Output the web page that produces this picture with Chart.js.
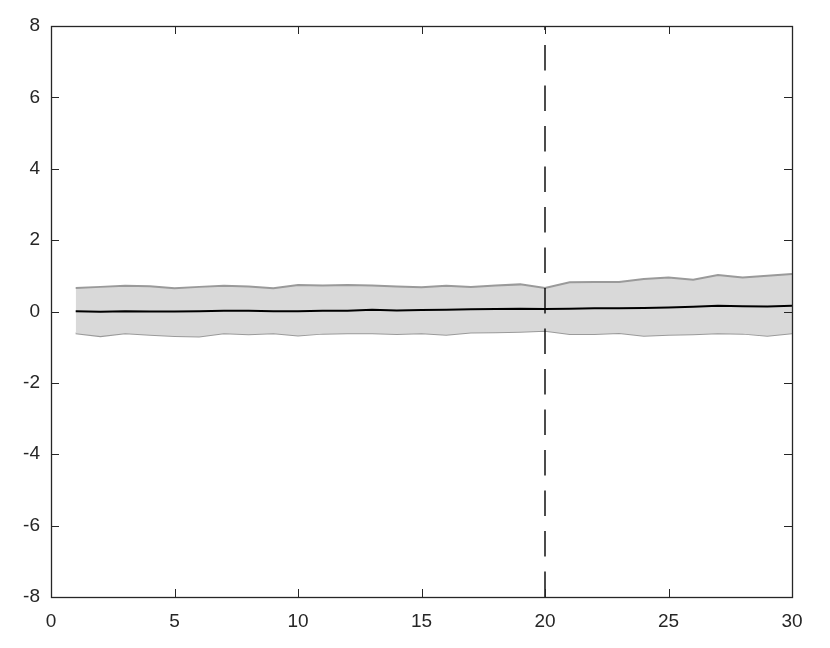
<!DOCTYPE html>
<html>
<head>
<meta charset="utf-8">
<script src="https://cdn.jsdelivr.net/npm/chart.js@4"></script>
<style>
html,body{margin:0;padding:0;background:#fff;}
#wrap{width:830px;height:648px;position:relative;}
</style>
</head>
<body>
<div id="wrap"><canvas id="c" width="830" height="648"></canvas></div>
<script>
const steps = [1,2,3,4,5,6,7,8,9,10,11,12,13,14,15,16,17,18,19,20,21,22,23,24,25,26,27,28,29,30];
const upperBand = [0.66,0.69,0.72,0.71,0.65,0.69,0.72,0.70,0.65,0.74,0.73,0.74,0.73,0.70,0.68,0.72,0.69,0.73,0.76,0.66,0.82,0.83,0.83,0.91,0.95,0.89,1.02,0.95,1.00,1.05];
const meanLine = [0.01,-0.01,0.01,0.00,0.00,0.01,0.02,0.02,0.01,0.01,0.02,0.02,0.05,0.03,0.04,0.05,0.06,0.07,0.08,0.07,0.08,0.09,0.09,0.10,0.11,0.13,0.16,0.15,0.14,0.16];
const lowerBand = [-0.61,-0.69,-0.61,-0.65,-0.69,-0.70,-0.61,-0.64,-0.61,-0.67,-0.62,-0.61,-0.61,-0.63,-0.61,-0.65,-0.59,-0.58,-0.57,-0.54,-0.63,-0.63,-0.60,-0.68,-0.65,-0.64,-0.61,-0.62,-0.68,-0.61];
const markerX = 20;
const xRange = [0, 30];
const yRange = [-8, 8];
const xStep = 5;
const yStep = 2;

const toPts = (ys) => steps.map((x, i) => ({x: x, y: ys[i]}));

const axisColor = '#262626';

const boxTicks = {
  id: 'boxTicks',
  afterDatasetsDraw(chart) {
    const ctx = chart.ctx;
    const a = chart.chartArea;
    const xs = chart.scales.x, ys = chart.scales.y;
    const L = 8;
    ctx.save();
    ctx.strokeStyle = axisColor;
    ctx.lineWidth = 1;
    ctx.beginPath();
    xs.ticks.forEach(t => {
      const px = Math.round(xs.getPixelForValue(t.value)) + 0.5;
      ctx.moveTo(px, a.bottom); ctx.lineTo(px, a.bottom - L);
      ctx.moveTo(px, a.top); ctx.lineTo(px, a.top + L);
    });
    ys.ticks.forEach(t => {
      const py = Math.round(ys.getPixelForValue(t.value)) + 0.5;
      ctx.moveTo(a.left, py); ctx.lineTo(a.left + L, py);
      ctx.moveTo(a.right, py); ctx.lineTo(a.right - L, py);
    });
    ctx.stroke();
    ctx.lineWidth = 1.3;
    ctx.strokeRect(a.left + 0.5, a.top + 0.5, a.right - a.left, a.bottom - a.top);
    ctx.restore();
  }
};

new Chart(document.getElementById('c'), {
  type: 'line',
  data: {
    datasets: [
      {
        label: 'upper',
        data: toPts(upperBand),
        borderColor: '#9a9a9a',
        borderWidth: 2,
        backgroundColor: '#d9d9d9',
        fill: '+1',
        pointRadius: 0,
        tension: 0,
        order: 3
      },
      {
        label: 'lower',
        data: toPts(lowerBand),
        borderColor: '#9a9a9a',
        borderWidth: 2,
        fill: false,
        pointRadius: 0,
        tension: 0,
        order: 3
      },
      {
        label: 'mean',
        data: toPts(meanLine),
        borderColor: '#000000',
        borderWidth: 2,
        fill: false,
        pointRadius: 0,
        tension: 0,
        order: 2
      },
      {
        label: 'marker',
        data: [{x: markerX, y: yRange[0]}, {x: markerX, y: yRange[1]}],
        borderColor: '#000000',
        borderWidth: 1.4,
        borderDash: [25.5, 15],
        fill: false,
        pointRadius: 0,
        order: 1
      }
    ]
  },
  options: {
    responsive: false,
    animation: false,
    layout: {padding: {top: 26, right: 38, left: 0, bottom: 0}},
    plugins: {legend: {display: false}, tooltip: {enabled: false}},
    scales: {
      x: {
        type: 'linear',
        min: xRange[0], max: xRange[1],
        grid: {display: false, drawTicks: false},
        border: {display: false},
        ticks: {stepSize: xStep, color: axisColor, padding: 13,
          font: {family: 'Liberation Sans', size: 19}},
        afterFit(s) { s.height = 51; }
      },
      y: {
        type: 'linear',
        min: yRange[0], max: yRange[1],
        grid: {display: false, drawTicks: false},
        border: {display: false},
        ticks: {stepSize: yStep, color: axisColor, padding: 11,
          font: {family: 'Liberation Sans', size: 19}},
        afterFit(s) { s.width = 51; }
      }
    }
  },
  plugins: [boxTicks]
});
</script>
</body>
</html>
